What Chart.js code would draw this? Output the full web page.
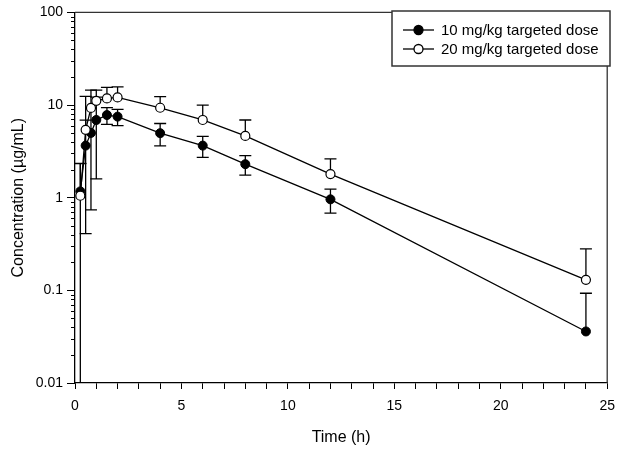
<!DOCTYPE html>
<html><head><meta charset="utf-8">
<script src="https://cdn.jsdelivr.net/npm/chart.js@4.4.1/dist/chart.umd.min.js"></script>
<style>html,body{margin:0;padding:0;background:#fff;overflow:hidden}</style>
</head><body>
<canvas id="c" width="624" height="453"></canvas>
<script>
// ---- data ----
const timesH = [0.25, 0.5, 0.75, 1, 1.5, 2, 4, 6, 8, 12, 24];
const conc10 = [1.17, 3.65, 5.0, 6.9, 7.8, 7.5, 4.97, 3.65, 2.30, 0.96, 0.036];
const sd10   = [1.165, 3.24, 4.26, 5.3, 1.6, 1.5, 1.35, 0.93, 0.55, 0.28, 0.057];
const conc20 = [1.05, 5.4, 9.3, 11.1, 11.8, 12.1, 9.35, 6.9, 4.64, 1.80, 0.13];
const sd20   = [1.3, 7.0, 5.2, 3.4, 3.7, 3.6, 2.95, 3.1, 2.26, 0.82, 0.15];
const yMajorTicks = [0.01, 0.1, 1, 10, 100];
const yTickLabels = ['0.01', '0.1', '1', '10', '100'];
const xLabelTicks = [0, 5, 10, 15, 20, 25];
const seriesNames = ['10 mg/kg targeted dose', '20 mg/kg targeted dose'];
const xTitle = 'Time (h)';
const yTitle = 'Concentration (\u00b5g/mL)';

const FONT = '"Liberation Sans", Arial, sans-serif';

const errorBars = {
  id: 'errorBars',
  beforeDatasetsDraw(chart) {
    const {ctx, chartArea: ca, scales: {x, y}} = chart;
    ctx.save();
    ctx.beginPath();
    ctx.rect(ca.left, ca.top - 1, ca.right - ca.left, ca.bottom - ca.top + 1);
    ctx.clip();
    ctx.strokeStyle = '#000';
    ctx.lineWidth = 1.3;
    const cap = 6;
    const draw = (vals, sds, both) => {
      vals.forEach((v, i) => {
        const px = x.getPixelForValue(timesH[i]);
        const py = y.getPixelForValue(v);
        const up = y.getPixelForValue(v + sds[i]);
        ctx.beginPath();
        ctx.moveTo(px, py); ctx.lineTo(px, up);
        ctx.moveTo(px - cap, up); ctx.lineTo(px + cap, up);
        ctx.stroke();
        if (both && v - sds[i] > 0) {
          const lo = y.getPixelForValue(v - sds[i]);
          ctx.beginPath();
          ctx.moveTo(px, py); ctx.lineTo(px, lo);
          ctx.moveTo(px - cap, lo); ctx.lineTo(px + cap, lo);
          ctx.stroke();
        }
      });
    };
    draw(conc10, sd10, true);
    draw(conc20, sd20, false);
    ctx.restore();
  }
};

const frameAndLegend = {
  id: 'frameAndLegend',
  afterDraw(chart) {
    const {ctx, chartArea: ca, scales: {y}} = chart;
    ctx.save();
    // minor log ticks
    ctx.strokeStyle = '#000';
    ctx.lineWidth = 1;
    for (let d = -2; d < 2; d++) {
      for (let k = 2; k <= 9; k++) {
        const py = Math.round(y.getPixelForValue(k * Math.pow(10, d))) + 0.5;
        ctx.beginPath();
        ctx.moveTo(ca.left - 4, py); ctx.lineTo(ca.left, py);
        ctx.stroke();
      }
    }
    // frame top/right
    ctx.strokeStyle = '#333';
    ctx.lineWidth = 1.3;
    ctx.beginPath();
    ctx.moveTo(ca.left, ca.top); ctx.lineTo(ca.right, ca.top); ctx.lineTo(ca.right, ca.bottom);
    ctx.stroke();
    // legend
    const bx = 392, by = 11, bw = 218, bh = 55;
    ctx.fillStyle = '#fff';
    ctx.fillRect(bx, by, bw, bh);
    ctx.strokeStyle = '#333';
    ctx.lineWidth = 1.5;
    ctx.strokeRect(bx, by, bw, bh);
    const fills = ['#000', '#fff'];
    seriesNames.forEach((name, i) => {
      const ly = 30 + i * 19;
      ctx.strokeStyle = '#000';
      ctx.lineWidth = 1.3;
      ctx.beginPath(); ctx.moveTo(403, ly); ctx.lineTo(434, ly); ctx.stroke();
      ctx.beginPath(); ctx.arc(418.5, ly, 4.5, 0, Math.PI * 2);
      ctx.fillStyle = fills[i]; ctx.fill(); ctx.stroke();
      ctx.fillStyle = '#000';
      ctx.font = '15px ' + FONT;
      ctx.textBaseline = 'middle';
      ctx.textAlign = 'left';
      ctx.fillText(name, 441, ly + 1);
    });
    ctx.restore();
  }
};

const mk = (vals) => vals.map((v, i) => ({x: timesH[i], y: v}));

new Chart(document.getElementById('c'), {
  type: 'line',
  data: {
    datasets: [
      {label: seriesNames[0], data: mk(conc10), borderColor: '#000', borderWidth: 1.3,
       pointRadius: 4.5, pointBackgroundColor: '#000', pointBorderColor: '#000', pointBorderWidth: 1,
       tension: 0, order: 2},
      {label: seriesNames[1], data: mk(conc20), borderColor: '#000', borderWidth: 1.3,
       pointRadius: 4.5, pointBackgroundColor: '#fff', pointBorderColor: '#000', pointBorderWidth: 1.2,
       tension: 0, order: 1}
    ]
  },
  options: {
    responsive: false,
    devicePixelRatio: 1,
    animation: false,
    layout: {padding: {left: 0, top: 12, right: 14, bottom: 0}},
    plugins: {legend: {display: false}, tooltip: {enabled: false}},
    scales: {
      x: {
        type: 'linear', min: 0, max: 25,
        afterFit(s) { s.height = 70; },
        ticks: {stepSize: 1, autoSkip: false, maxRotation: 0, color: '#000', padding: 9,
                font: {family: FONT, size: 14},
                callback: (v) => xLabelTicks.includes(v) ? String(v) : ''},
        grid: {drawOnChartArea: false, tickLength: 6, tickColor: '#000', tickWidth: 1},
        border: {color: '#000', width: 1.3},
        title: {display: true, text: xTitle, color: '#000', font: {family: FONT, size: 16},
                padding: {top: 0, bottom: 6}}
      },
      y: {
        type: 'logarithmic', min: 0.01, max: 100,
        afterFit(s) { s.width = 75; },
        afterBuildTicks(s) { s.ticks = yMajorTicks.map(v => ({value: v})); },
        ticks: {autoSkip: false, color: '#000', padding: 4, font: {family: FONT, size: 14},
                callback: (v) => { const i = yMajorTicks.indexOf(v); return i >= 0 ? yTickLabels[i] : ''; }},
        grid: {drawOnChartArea: false, tickLength: 8, tickColor: '#000', tickWidth: 1},
        border: {color: '#000', width: 1.3},
        title: {display: true, text: yTitle, color: '#000', font: {family: FONT, size: 16},
                padding: {top: 9, bottom: 0}}
      }
    }
  },
  plugins: [errorBars, frameAndLegend]
});
</script>
</body></html>
